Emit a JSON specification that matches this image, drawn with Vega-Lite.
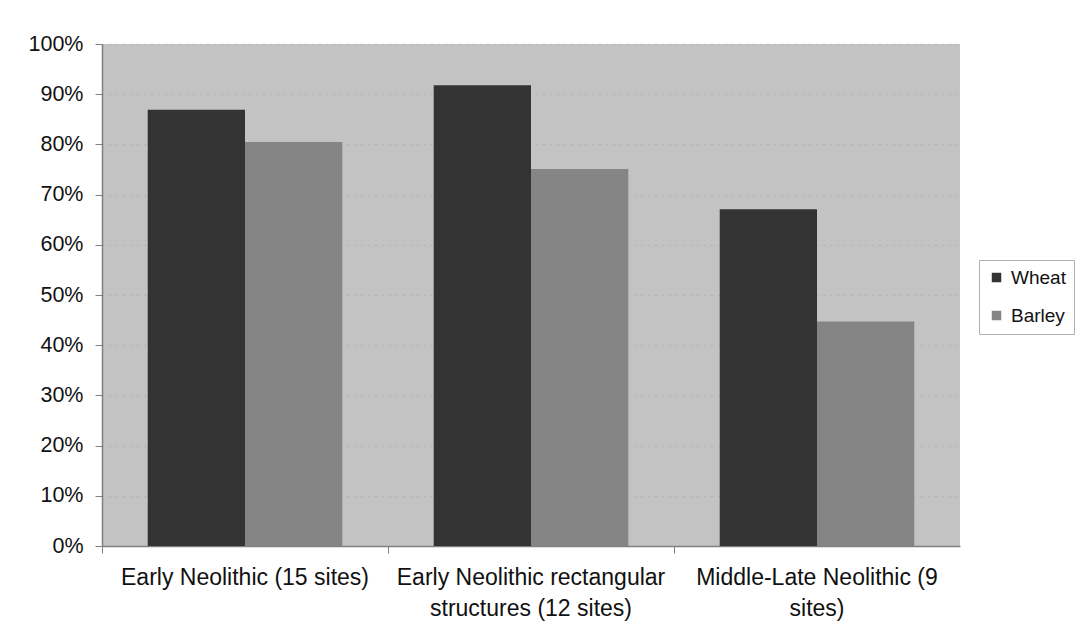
{
  "$schema": "https://vega.github.io/schema/vega-lite/v6.json",
  "autosize": {"type": "none"},
  "width": 858,
  "height": 502,
  "padding": {"left": 102, "top": 44, "right": 116, "bottom": 98},
  "background": "white",
  "config": {
    "font": "Liberation Sans",
    "view": {"fill": "#c3c3c3", "stroke": null}
  },
  "data": {
    "values": [
      {"period": "Early Neolithic (15 sites)", "crop": "Wheat", "share": 0.869},
      {"period": "Early Neolithic (15 sites)", "crop": "Barley", "share": 0.805},
      {"period": "Early Neolithic rectangular structures (12 sites)", "crop": "Wheat", "share": 0.918},
      {"period": "Early Neolithic rectangular structures (12 sites)", "crop": "Barley", "share": 0.751},
      {"period": "Middle-Late Neolithic (9 sites)", "crop": "Wheat", "share": 0.671},
      {"period": "Middle-Late Neolithic (9 sites)", "crop": "Barley", "share": 0.447}
    ]
  },
  "mark": {"type": "bar"},
  "encoding": {
    "x": {
      "field": "period",
      "type": "nominal",
      "sort": null,
      "scale": {"paddingInner": 0, "paddingOuter": 0},
      "axis": {
        "title": null,
        "labelAngle": 0,
        "bandPosition": 0,
        "labelFontSize": 23,
        "labelColor": "#111111",
        "labelPadding": 13,
        "labelLineHeight": 31,
        "labelBaseline": "top",
        "labelLimit": 300,
        "tickSize": 7,
        "tickColor": "#808080",
        "domainColor": "#808080",
        "domainWidth": 1.5,
        "labelExpr": "datum.label == 'Early Neolithic rectangular structures (12 sites)' ? ['Early Neolithic rectangular', 'structures (12 sites)'] : datum.label == 'Middle-Late Neolithic (9 sites)' ? ['Middle-Late Neolithic (9', 'sites)'] : datum.label"
      }
    },
    "xOffset": {
      "field": "crop",
      "type": "nominal",
      "sort": ["Wheat", "Barley"],
      "scale": {"paddingInner": 0, "paddingOuter": 0.47}
    },
    "y": {
      "field": "share",
      "type": "quantitative",
      "scale": {"domain": [0, 1], "nice": false},
      "axis": {
        "title": null,
        "format": ".0%",
        "values": [0, 0.1, 0.2, 0.3, 0.4, 0.5, 0.6, 0.7, 0.8, 0.9, 1],
        "labelFontSize": 21.5,
        "labelColor": "#111111",
        "labelPadding": 12,
        "tickSize": 7,
        "tickColor": "#808080",
        "domainColor": "#808080",
        "domainWidth": 1.5,
        "grid": true,
        "gridColor": "#8a8a8a",
        "gridDash": [1, 6],
        "gridOpacity": 0.6
      }
    },
    "color": {
      "field": "crop",
      "type": "nominal",
      "sort": ["Wheat", "Barley"],
      "scale": {"domain": ["Wheat", "Barley"], "range": ["#333333", "#858585"]},
      "legend": {
        "title": null,
        "orient": "none",
        "legendX": 877,
        "legendY": 216,
        "symbolType": "square",
        "symbolSize": 90,
        "symbolStrokeWidth": 0,
        "labelFontSize": 19,
        "labelColor": "#111111",
        "labelOffset": 5,
        "labelExpr": "datum.label + '      '",
        "rowPadding": 18,
        "padding": 8,
        "strokeColor": "#b0b0b0",
        "fillColor": "white"
      }
    }
  }
}
